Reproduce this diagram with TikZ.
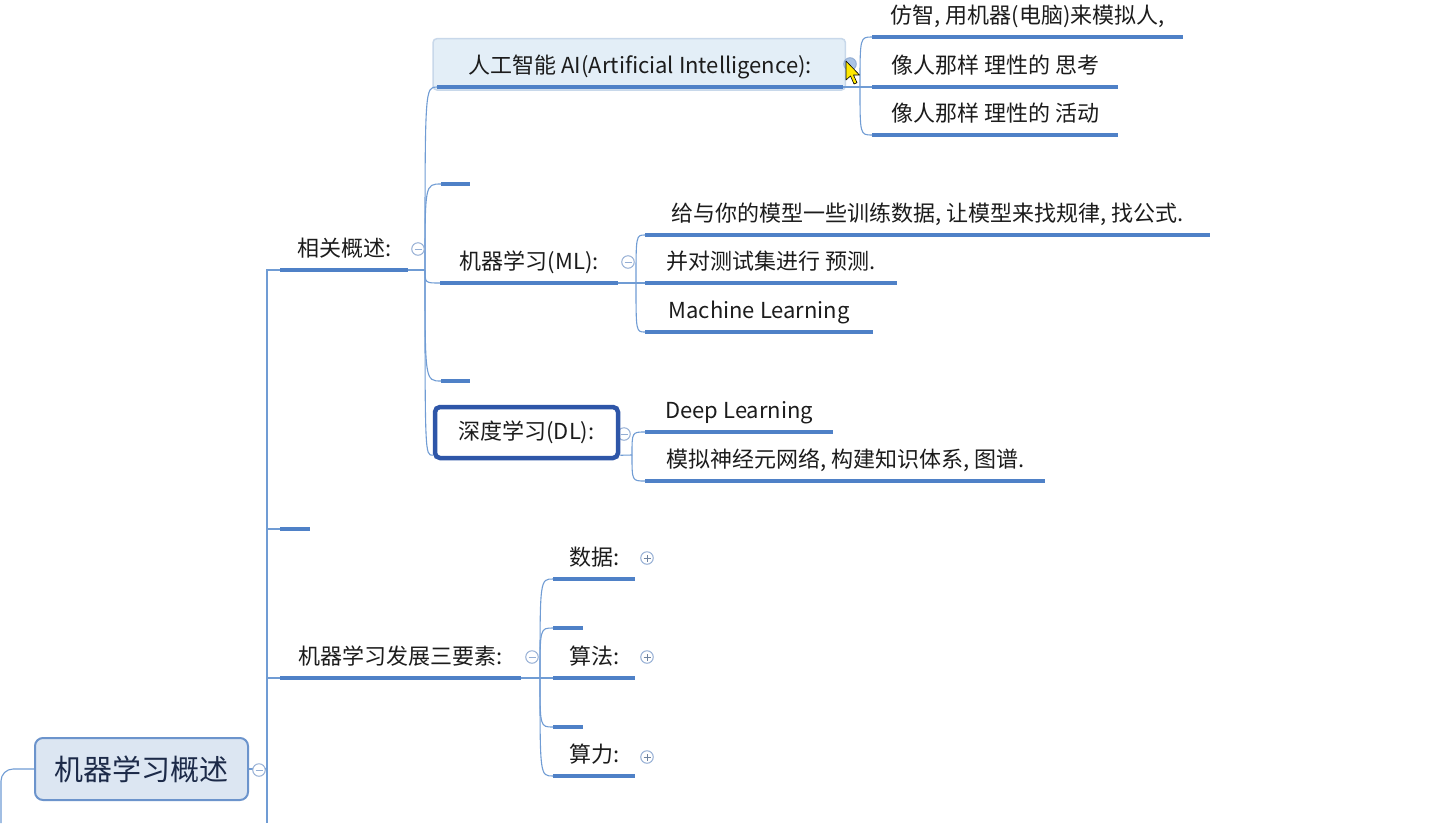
\documentclass[tikz,border=0pt]{standalone}
\usepackage{fontspec}
\setmainfont{Noto Sans CJK SC}
\usepackage{tikz}
\usetikzlibrary{calc,backgrounds}
\definecolor{lineblue}{RGB}{79,129,199}
\definecolor{connblue}{RGB}{112,156,212}
\definecolor{txtdark}{RGB}{28,28,28}
\definecolor{rootfill}{RGB}{220,230,242}
\definecolor{rootdraw}{RGB}{108,148,204}
\definecolor{roottext}{RGB}{28,42,72}
\definecolor{aifill}{RGB}{227,238,247}
\definecolor{aidraw}{RGB}{200,216,234}
\definecolor{dlblue}{RGB}{46,86,168}
\definecolor{foldline}{RGB}{148,174,212}
\definecolor{hoverfill}{RGB}{170,195,228}
\definecolor{cursoryellow}{RGB}{255,232,0}

\begin{document}
\begin{tikzpicture}[x=1pt, y=-1pt,
    topic/.style={font=\fontsize{22}{26}\selectfont, text=txtdark, inner sep=0pt,
        text height=21pt, text depth=13pt, minimum width=#1pt, anchor=south west},
    stub/.style={inner sep=0pt, minimum width=#1pt, minimum height=0pt, anchor=south west},
    uline/.style={draw=lineblue, line width=3.6pt},
    conn/.style={draw=connblue, line width=1.1pt},
    rootbox/.style={draw=rootdraw, fill=rootfill, line width=2pt, rounded corners=8pt,
        minimum width=213pt, minimum height=62pt, inner sep=0pt,
        font=\fontsize{29}{34}\selectfont, text=roottext},
    dlbox/.style={draw=dlblue, fill=white, line width=4.5pt, rounded corners=5pt,
        minimum width=183pt, minimum height=51pt, inner sep=0pt,
        font=\fontsize{22}{26}\selectfont, text=txtdark},
    aibox/.style={draw=aidraw, fill=aifill, line width=1.5pt, rounded corners=4pt},
    foldminus/.style={circle, draw=foldline, fill=white, line width=1pt, minimum size=12.5pt, inner sep=0pt,
        path picture={\draw[foldline, line width=1pt]
            ([xshift=-3.5pt]path picture bounding box.center) -- ([xshift=3.5pt]path picture bounding box.center);}},
    foldplus/.style={circle, draw=foldline, fill=white, line width=1pt, minimum size=12.5pt, inner sep=0pt,
        path picture={\draw[foldline!75!black, line width=1pt]
            ([xshift=-3.5pt]path picture bounding box.center) -- ([xshift=3.5pt]path picture bounding box.center)
            ([yshift=-3.5pt]path picture bounding box.center) -- ([yshift=3.5pt]path picture bounding box.center);}},
    foldhover/.style={circle, draw=foldline, fill=hoverfill, line width=1pt, minimum size=12.5pt, inner sep=0pt},
    cursor/.style={fill=cursoryellow, draw=black, line width=0.6pt, line join=round}
]
\useasboundingbox (0,0) rectangle (1433,823);

% Root
\node[rootbox] (root) at (141.5,769) {机器学习概述};
\coordinate (offroot) at (1,823);
\coordinate (trunkend) at (267,823);

% First level
\node[topic=128] (xg) at (280,270) {相关概述:};
\node[stub=30] (s3) at (280,529) {};
\node[topic=241] (sy) at (280,678) {机器学习发展三要素:};

% Related concepts
\node[topic=406] (ai) at (437,87) {人工智能 AI(Artificial Intelligence):};
\node[stub=29] (s1) at (441,184) {};
\node[topic=178] (ml) at (440,283) {机器学习(ML):};
\node[stub=29] (s2) at (441,381) {};

% AI
\node[topic=311] (a1) at (872,37) {仿智, 用机器(电脑)来模拟人,};
\node[topic=246] (a2) at (872,87) {像人那样 理性的 思考};
\node[topic=246] (a3) at (872,135) {像人那样 理性的 活动};

% ML
\node[topic=565] (m1) at (645,235) {给与你的模型一些训练数据, 让模型来找规律, 找公式.};
\node[topic=252] (m2) at (645,283) {并对测试集进行 预测.};
\node[topic=228] (m3) at (645,332) {Machine Learning};

% DL
\node[topic=188] (d1) at (645,432) {Deep Learning};
\node[topic=400] (d2) at (645,481) {模拟神经元网络, 构建知识体系, 图谱.};

% Three elements
\node[topic=82] (e1) at (553,579) {数据:};
\node[stub=30] (s4) at (553,628) {};
\node[topic=82] (e2) at (553,678) {算法:};
\node[stub=30] (s5) at (553,727) {};
\node[topic=82] (e3) at (553,776) {算力:};

% Selected topic background
\begin{scope}[on background layer]
\fill[white] (0,0) rectangle (1433,823);
\draw[aibox] ($(ai.south west)+(-4,3)$) rectangle ($(ai.north east)+(2,-14)$);
\end{scope}

% Underlines
\foreach \n in {xg,s3,sy,ai,s1,ml,s2,a1,a2,a3,m1,m2,m3,d1,d2,e1,s4,e2,s5,e3}
    \draw[uline] (\n.south west) -- (\n.south east);

% Trunk
\draw[conn, rounded corners=12pt] (root.west) -| (offroot);
\draw[conn] (root.east) -- (root.east -| trunkend);
\draw[conn] (xg.south west) -| (trunkend);
\draw[conn] (s3.south west) -- (s3.south west -| trunkend);
\draw[conn] (sy.south west) -- (sy.south west -| trunkend);

% Branches of related concepts
\coordinate (bpX) at (425,270);
\draw[conn] (xg.south east) -- (bpX);
\foreach \n in {ai,s1,ml,s2}
    \draw[conn] (bpX) .. controls (bpX |- \n.south west) .. (\n.south west);

\coordinate (bpA) at (860,87);
\draw[conn] (ai.south east) -- (bpA);
\foreach \n in {a1,a2,a3}
    \draw[conn] (bpA) .. controls (bpA |- \n.south west) .. (\n.south west);

\coordinate (bpM) at (636,283);
\draw[conn] (ml.south east) -- (bpM);
\foreach \n in {m1,m2,m3}
    \draw[conn] (bpM) .. controls (bpM |- \n.south west) .. (\n.south west);

\coordinate (bpS) at (540,678);
\draw[conn] (sy.south east) -- (bpS);
\foreach \n in {e1,s4,e2,s5,e3}
    \draw[conn] (bpS) .. controls (bpS |- \n.south west) .. (\n.south west);

% Deep learning box
\node[foldminus] (dlfold) at (624,434) {};
\coordinate (bpD) at (632,455);
\node[dlbox] (dl) at (526.5,432.5) {深度学习(DL):};
\coordinate (dlin) at ($(dl.south west)+(0,-5)$);
\coordinate (dlout) at ($(dl.south east)+(0,-5)$);
\draw[conn] (bpX) .. controls (bpX |- dlin) .. (dlin);
\draw[conn] (dlout) -- (bpD);
\foreach \n in {d1,d2}
    \draw[conn] (bpD) .. controls (bpD |- \n.south west) .. (\n.south west);

% Fold buttons
\node[foldminus] (rootfold) at (259,770) {};
\node[foldminus] (xgfold) at (418,249) {};
\node[foldminus] (mlfold) at (628,262) {};
\node[foldminus] (syfold) at (532,657) {};
\node[foldhover] (aifold) at (850,64) {};
\node[foldplus] (e1fold) at (647,558) {};
\node[foldplus] (e2fold) at (647,657) {};
\node[foldplus] (e3fold) at (647,757) {};

% Mouse pointer
\filldraw[cursor] (846,61) -- ++(0,19) -- ++(4.5,-4) -- ++(3.5,8) -- ++(3,-1.3)
    -- ++(-3.5,-7.7) -- ++(6,0) -- cycle;

\end{tikzpicture}
\end{document}
